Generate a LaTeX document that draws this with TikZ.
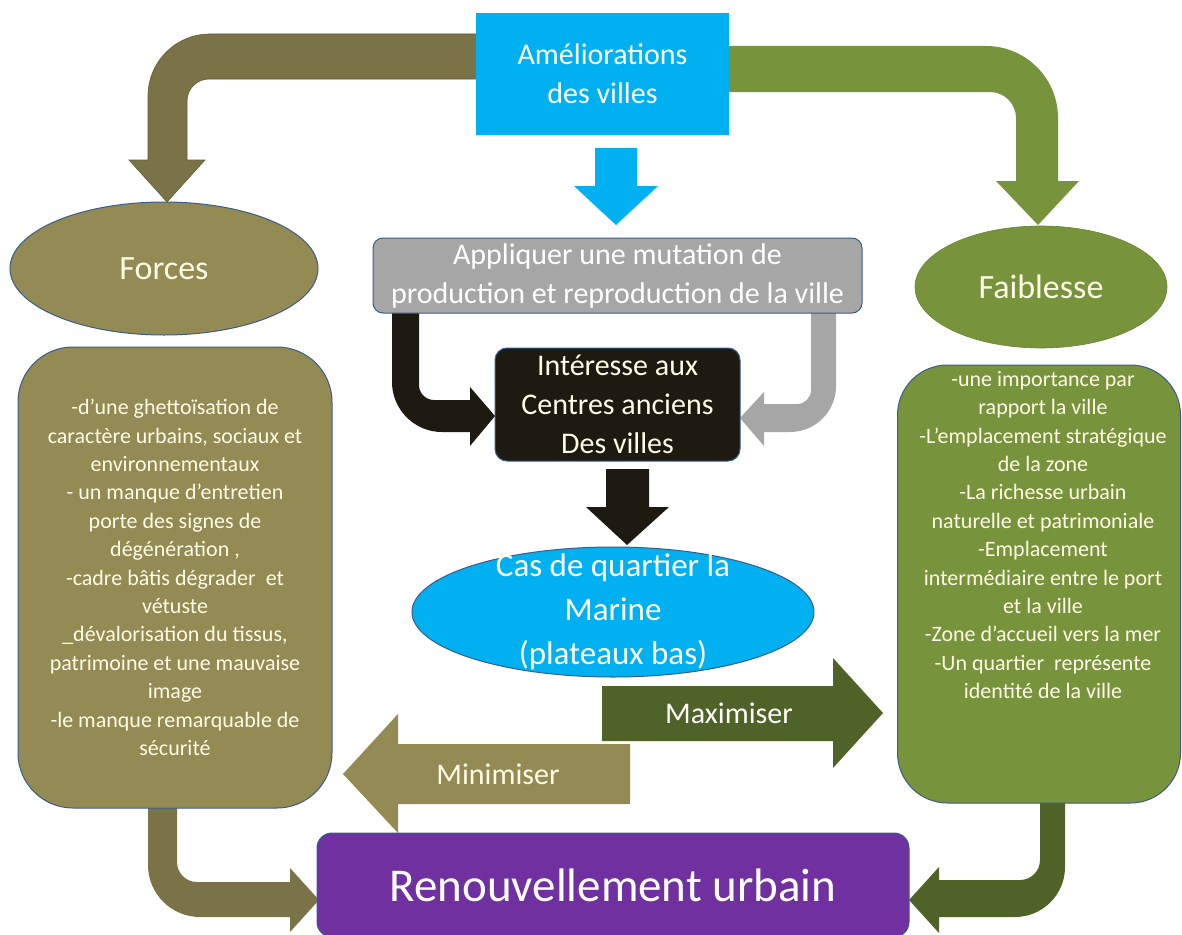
\documentclass[tikz,border=0pt]{standalone}
\usepackage{fontspec}
\setmainfont{Carlito}
\usetikzlibrary{shapes.geometric}
\definecolor{cyan0}{HTML}{00B0F0}
\definecolor{olive0}{HTML}{948A54}
\definecolor{olivedk}{HTML}{7A7348}
\definecolor{green0}{HTML}{77933C}
\definecolor{greendk}{HTML}{4F6228}
\definecolor{gray0}{HTML}{A6A6A6}
\definecolor{black0}{HTML}{1D1B11}
\definecolor{purple0}{HTML}{7030A0}
\definecolor{bordc}{HTML}{385D8A}
\definecolor{cream}{HTML}{FFFCE8}
\tikzset{
  bord/.style={draw=bordc, line width=1pt},
  ttl/.style={font=\fontsize{30}{39}\selectfont, text=white, align=center, inner sep=0pt},
  body/.style={font=\fontsize{22}{28.4}\selectfont, text=cream, align=center, inner sep=0pt},
  big/.style={font=\fontsize{34}{40}\selectfont, text=cream, inner sep=0pt},
}
\begin{document}
\begin{tikzpicture}[x=1pt,y=1pt]
\useasboundingbox (0,0) rectangle (1182,-934);
\clip (0,0) rectangle (1182,-934);
\fill[white] (0,0) rectangle (1182,-934);
% ---- block arrows (drawn behind the boxes)
\filldraw[fill=olivedk, draw=olivedk!80!black, line width=0.6pt]
  (480,-34) -- (210,-34) arc[start angle=90,end angle=180,radius=62]
  -- (148,-160) -- (129,-160) -- (167,-202) -- (205,-160) -- (187,-160)
  -- (187,-101) arc[start angle=180,end angle=90,radius=22] -- (480,-79) -- cycle;
\fill[green0]
  (725,-46) -- (986,-46) arc[start angle=90,end angle=0,radius=72]
  -- (1058,-181) -- (1079,-181) -- (1038,-225) -- (996,-181) -- (1016,-181)
  -- (1016,-118) arc[start angle=0,end angle=90,radius=26] -- (725,-92) -- cycle;
\fill[cyan0] (595,-148) -- (637,-148) -- (637,-186) -- (658,-186) -- (616,-225)
  -- (574,-186) -- (595,-186) -- cycle;
\fill[black0]
  (392,-310) -- (392,-382) arc[start angle=180,end angle=270,radius=50]
  -- (470,-432) -- (470,-446) -- (495,-416) -- (470,-387) -- (470,-400)
  -- (434,-400) arc[start angle=270,end angle=180,radius=15] -- (419,-310) -- cycle;
\fill[gray0]
  (836,-310) -- (836,-386) arc[start angle=0,end angle=-90,radius=46]
  -- (764,-432) -- (764,-446) -- (740,-418) -- (764,-392) -- (764,-404)
  -- (797,-404) arc[start angle=-90,end angle=0,radius=14] -- (811,-310) -- cycle;
\fill[black0] (606,-469) -- (649,-469) -- (649,-507) -- (669,-507) -- (627,-545)
  -- (586,-507) -- (606,-507) -- cycle;
\fill[greendk] (602,-686) -- (833,-686) -- (833,-658) -- (883,-713) -- (833,-768)
  -- (833,-741) -- (602,-741) -- cycle;
\fill[olive0] (630,-744) -- (398,-744) -- (398,-714) -- (343,-774) -- (398,-833)
  -- (398,-804) -- (630,-804) -- cycle;
\fill[olivedk]
  (148,-800) -- (148,-865) arc[start angle=180,end angle=270,radius=52]
  -- (290,-917) -- (290,-932) -- (319,-900) -- (290,-868) -- (290,-882)
  -- (197,-882) arc[start angle=270,end angle=180,radius=20] -- (177,-800) -- cycle;
\fill[greendk]
  (1065,-800) -- (1065,-867) arc[start angle=0,end angle=-90,radius=50]
  -- (939,-917) -- (939,-933) -- (909,-900) -- (939,-867) -- (939,-880)
  -- (1020,-880) arc[start angle=-90,end angle=0,radius=20] -- (1040,-800) -- cycle;
% ---- nodes
\node[rectangle, fill=cyan0, minimum width=253pt, minimum height=122pt, ttl] (top) at (602.5,-74) {Améliorations\\des villes};
\node[bord, fill=gray0, rounded corners=10pt, minimum width=489pt, minimum height=75pt, ttl] (gray) at (617.5,-275.5) {Appliquer une mutation de\\production et reproduction de la ville};
\node[ellipse, bord, fill=olive0, minimum width=308pt, minimum height=133pt, big] (forces) at (164,-268.5) {Forces};
\node[ellipse, draw=green0!90!black, line width=0.6pt, fill=green0, minimum width=252pt, minimum height=122pt, big] (faib) at (1041,-287) {Faiblesse};
\node[bord, fill=olive0, rounded corners=55pt, minimum width=314pt, minimum height=461pt, body] (left) at (175,-577.5) {-d’une ghettoïsation de\\caractère urbains, sociaux et\\environnementaux\\- un manque d’entretien\\porte des signes de\\dégénération ,\\-cadre bâtis dégrader \ et\\vétuste\\\_dévalorisation du tissus,\\patrimoine et une mauvaise\\image\\-le manque remarquable de\\sécurité};
\node[bord, fill=green0, rounded corners=50pt, minimum width=283pt, minimum height=438pt] (right) at (1039,-584) {};
\node[body, anchor=north] (righttext) at (1043,-371) {-une importance par\\rapport la ville\\-L’emplacement stratégique\\de la zone\\-La richesse urbain\\naturelle et patrimoniale\\-Emplacement\\intermédiaire entre le port\\et la ville\\-Zone d’accueil vers la mer\\-Un quartier \ représente\\identité de la ville};
\node[bord, fill=black0, rounded corners=12pt, minimum width=245pt, minimum height=113pt, ttl, text=cream] (int) at (617.5,-404.5) {Intéresse aux\\Centres anciens\\Des villes};
\node[ellipse, bord, fill=cyan0, minimum width=402pt, minimum height=130pt, inner sep=0pt] (cas) at (613,-612) {};
\node[font=\fontsize{33}{44}\selectfont, text=white, align=center, inner sep=0pt] (castext) at (cas.center) {Cas de quartier la\\Marine\\(plateaux bas)};
\node[ttl] (maxi) at (729,-713) {Maximiser};
\node[ttl, text=cream] (mini) at (498,-774) {Minimiser};
\node[bord, fill=purple0, rounded corners=15pt, minimum width=592pt, minimum height=104pt, font=\fontsize{47}{50}\selectfont, text=white, inner sep=0pt] (ren) at (613,-885) {Renouvellement urbain};
\end{tikzpicture}
\end{document}
